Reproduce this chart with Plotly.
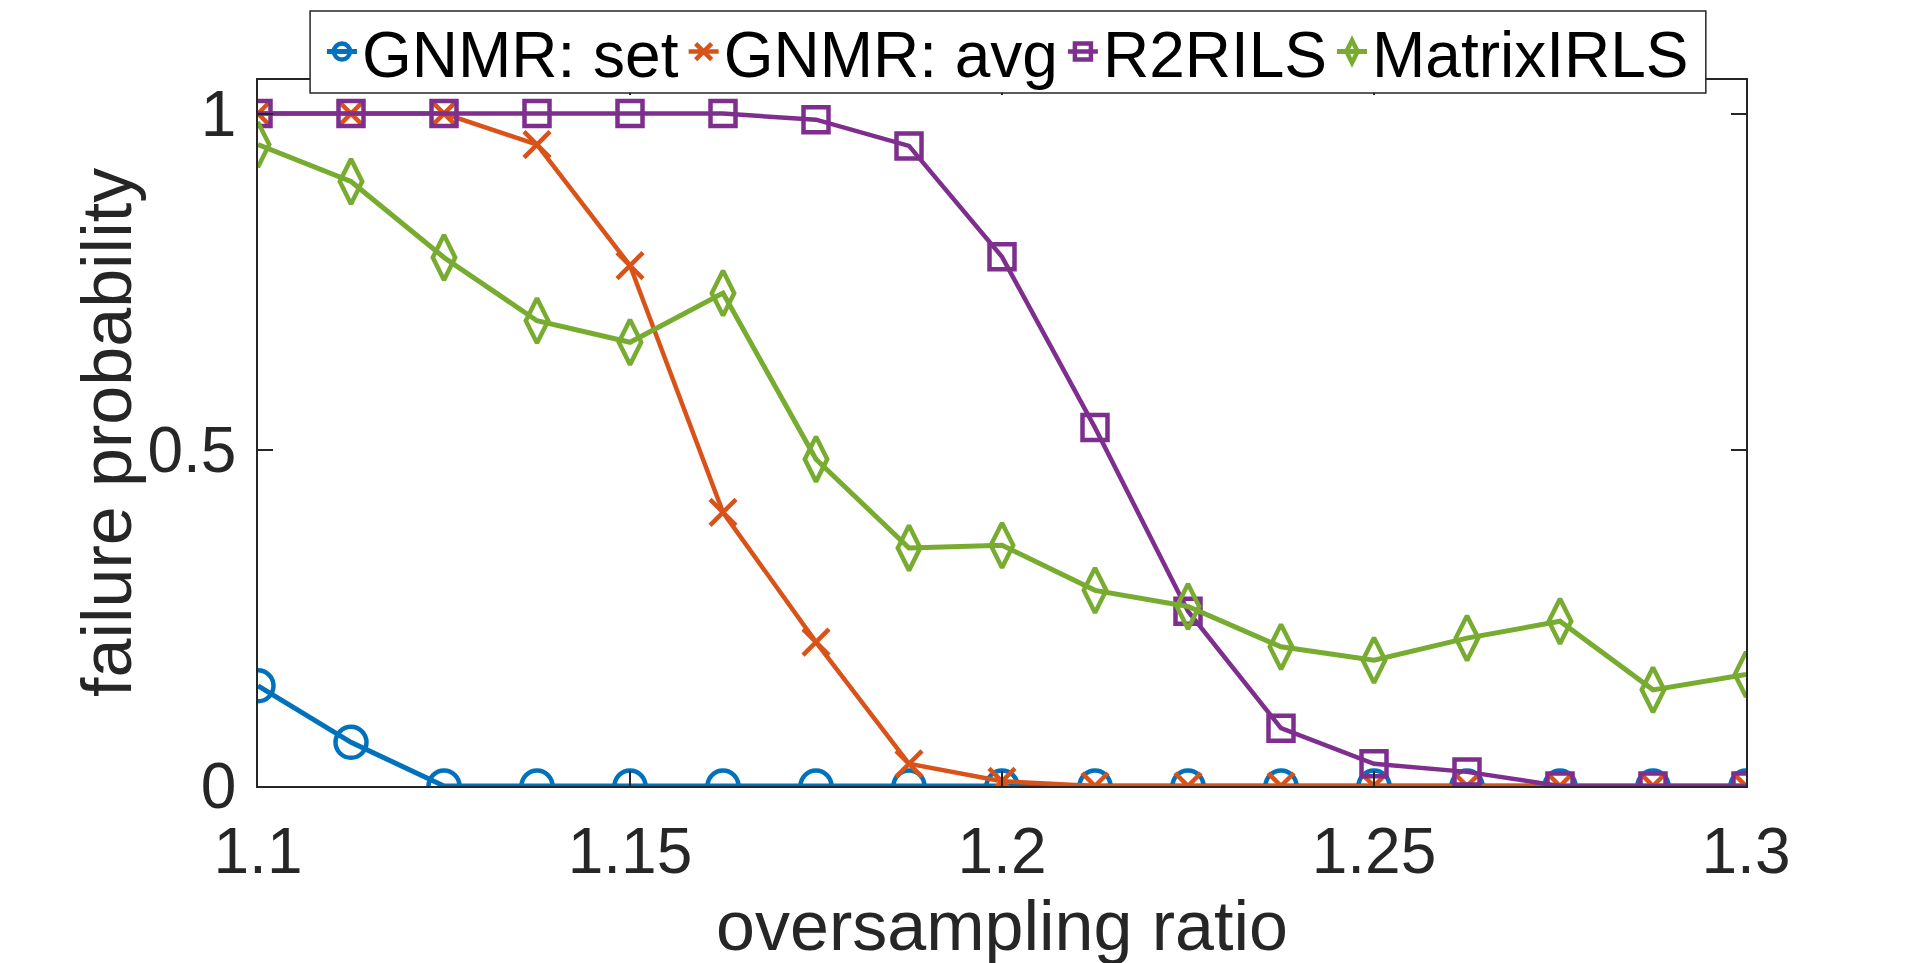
import plotly.graph_objects as go

# oversampling ratios (17 points, 1.1 .. 1.3)
ratio = [1.1, 1.1125, 1.125, 1.1375, 1.15, 1.1625, 1.175, 1.1875, 1.2,
         1.2125, 1.225, 1.2375, 1.25, 1.2625, 1.275, 1.2875, 1.3]

gnmr_set = [0.149, 0.065, 0, 0, 0, 0, 0, 0, 0, 0, 0, 0, 0, 0, 0, 0, 0]
gnmr_avg = [1, 1, 1, 0.954, 0.774, 0.407, 0.214, 0.033, 0.007, 0, 0, 0, 0, 0, 0, 0, 0]
r2rils = [1, 1, 1, 1, 1, 1, 0.991, 0.952, 0.787, 0.533, 0.26, 0.086, 0.033, 0.021, 0, 0, 0]
matrix_irls = [0.954, 0.899, 0.786, 0.692, 0.66, 0.733, 0.486, 0.354, 0.358,
               0.291, 0.267, 0.207, 0.187, 0.22, 0.245, 0.143, 0.166]

x_ticks = [1.1, 1.15, 1.2, 1.25, 1.3]
x_ticktext = ["1.1", "1.15", "1.2", "1.25", "1.3"]
y_ticks = [0, 0.5, 1]
y_ticktext = ["0", "0.5", "1"]

series = [
    ("GNMR: set", gnmr_set, "#0072BD", "circle-open", 31, 5),
    ("GNMR: avg", gnmr_avg, "#D95319", "x-thin-open", 26, 4.5),
    ("R2RILS", r2rils, "#7E2F8E", "square-open", 25, 4.5),
    ("MatrixIRLS", matrix_irls, "#77AC30", "diamond-tall-open", 32, 5),
]

fig = go.Figure()
for name, vals, color, symbol, size, lw in series:
    fig.add_trace(go.Scatter(
        x=ratio, y=vals, name=name, mode="lines+markers",
        line=dict(color=color, width=lw),
        marker=dict(symbol=symbol, size=size, color=color,
                    line=dict(color=color, width=4.5)),
    ))

axis_common = dict(
    showgrid=False, zeroline=False,
    showline=True, mirror="allticks", linecolor="#262626", linewidth=1.5,
    ticks="inside", ticklen=15, tickwidth=1.5, tickcolor="#262626",
    tickfont=dict(size=64, color="#262626"),
)

fig.update_xaxes(
    range=[1.1, 1.3], tickvals=x_ticks, ticktext=x_ticktext,
    ticklabelstandoff=8,
    title=dict(text="oversampling ratio", font=dict(size=70, color="#262626"), standoff=10),
    **axis_common,
)
fig.update_yaxes(
    range=[0, 1.05], tickvals=y_ticks, ticktext=y_ticktext,
    ticklabelstandoff=7,
    **axis_common,
)

# y axis title placed by hand, MATLAB style
fig.add_annotation(
    text="failure probability", textangle=-90,
    xref="paper", yref="paper", x=0, y=0.5, xanchor="center", yanchor="middle",
    xshift=-151, showarrow=False,
    font=dict(size=70, color="#262626"),
)

# legend frame (white box over the top axis line)
fig.add_shape(
    type="rect", xref="paper", yref="paper",
    x0=0.035, x1=0.973, y0=0.9816, y1=1.0977,
    fillcolor="white", line=dict(color="#262626", width=1.5), layer="above",
)

fig.update_layout(
    width=1920, height=963,
    margin=dict(l=250, r=182, t=72, b=185, autoexpand=False),
    plot_bgcolor="white", paper_bgcolor="white",
    font=dict(family="Liberation Sans, Arial, sans-serif", color="#000000"),
    legend=dict(
        orientation="h", x=0.504, xanchor="center", y=1.0397, yanchor="middle",
        bgcolor="rgba(0,0,0,0)", borderwidth=0,
        font=dict(size=64, color="#000000"),
        itemwidth=30, tracegroupgap=0,
    ),
)

fig.write_html("out.html")
